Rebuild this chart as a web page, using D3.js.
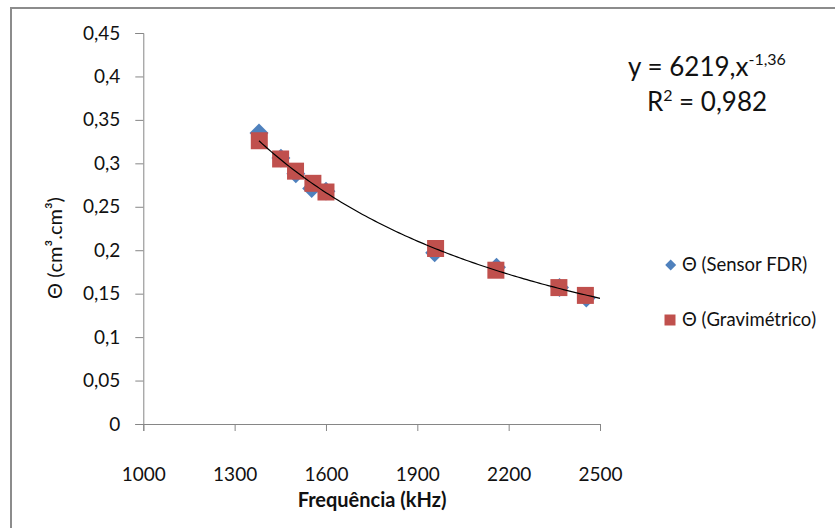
<!DOCTYPE html>
<html>
<head>
<meta charset="utf-8">
<script src="https://cdn.jsdelivr.net/npm/d3@7"></script>
<style>
  html, body { margin: 0; padding: 0; background: #fff; }
  svg { display: block; font-family: Lato, "Noto Sans", sans-serif; }
</style>
</head>
<body>
<svg id="chart" width="835" height="528"></svg>
<script>
// ---- data ----
const freqSensor  = [1380, 1452, 1501, 1553, 1600, 1957, 2160, 2367, 2455];
const thetaSensor = [0.335, 0.306, 0.288, 0.271, 0.268, 0.197, 0.1805, 0.157, 0.145];
const freqGravi   = [1381, 1451, 1500, 1557, 1600, 1960, 2158, 2365, 2452];
const thetaGravi  = [0.326, 0.305, 0.291, 0.277, 0.267, 0.202, 0.177, 0.157, 0.148];
const xTicks = [1000, 1300, 1600, 1900, 2200, 2500];
const yTicks = [0, 0.05, 0.1, 0.15, 0.2, 0.25, 0.3, 0.35, 0.4, 0.45];
const seriesNames = ["Θ (Sensor FDR)", "Θ (Gravimétrico)"];
const trendCoef = 6388, trendExp = -1.367;   // drawn trend curve
const trendRange = [1380, 2500];
const eqMain = "y = 6219,x", eqExp = "-1,36", r2Text = " = 0,982";

const svg = d3.select("#chart");
const x = d3.scaleLinear().domain([1000, 2500]).range([143.3, 600]);
const y = d3.scaleLinear().domain([0, 0.45]).range([424, 33]);
const axisColor = "#868686";
const fmt = d => d === 0 ? "0" : String(+d.toFixed(2)).replace(".", ",");

// outer border
svg.append("path")
  .attr("d", "M11,528 L11,8 L835,8")
  .attr("fill", "none").attr("stroke", "#8c8c8c").attr("stroke-width", 2);

// axes
const gy = svg.append("g").attr("transform", `translate(${x(1000)},0)`)
  .call(d3.axisLeft(y).tickValues(yTicks).tickFormat(fmt).tickSize(8).tickPadding(15));
const gx = svg.append("g").attr("transform", `translate(0,${y(0)})`)
  .call(d3.axisBottom(x).tickValues(xTicks).tickFormat(d => String(d)).tickSize(7).tickPadding(37));
[gx, gy].forEach(g => {
  g.selectAll("path.domain").attr("stroke", axisColor).attr("stroke-width", 1);
  g.selectAll(".tick line").attr("stroke", axisColor);
  g.selectAll(".tick text").attr("fill", "#111").style("font-size", "19px")
   .style("font-family", "Lato, sans-serif");
});

const blue = "#4F81BD", red = "#C0504D";
const trendLine = d3.line().x(d => x(d)).y(d => y(trendCoef * Math.pow(d, trendExp)));
const tx = d3.range(trendRange[0], trendRange[1] + 1, 10);

// sensor (diamonds)
svg.append("g").selectAll("path").data(freqSensor.map((f, i) => [f, thetaSensor[i]]))
  .join("path")
  .attr("transform", d => `translate(${x(d[0])},${y(d[1])}) rotate(45)`)
  .attr("d", d3.symbol(d3.symbolSquare, 180)())
  .attr("fill", blue);
// gravimetric (squares)
svg.append("g").selectAll("path").data(freqGravi.map((f, i) => [f, thetaGravi[i]]))
  .join("path")
  .attr("transform", d => `translate(${x(d[0])},${y(d[1])})`)
  .attr("d", d3.symbol(d3.symbolSquare, 289)())
  .attr("fill", red);

// trend curve (drawn over markers)
svg.append("path")
  .datum(tx)
  .attr("fill", "none").attr("stroke", "#000").attr("stroke-width", 1.2)
  .attr("d", trendLine);

// axis titles
svg.append("text").attr("x", 372).attr("y", 507).attr("text-anchor", "middle")
  .style("font-size", "20px").style("font-weight", "bold").attr("fill", "#111")
  .text("Frequência (kHz)");
svg.append("text").attr("transform", "translate(62,248) rotate(-90)").attr("text-anchor", "middle")
  .style("font-size", "20px").attr("fill", "#111")
  .text("Θ (cm³.cm³)");

// equation
const eq = svg.append("text").attr("x", 707).attr("y", 76).attr("text-anchor", "middle")
  .style("font-size", "26px").attr("fill", "#111");
eq.append("tspan").text(eqMain);
eq.append("tspan").attr("dy", -11).style("font-size", "16px").text(eqExp);
const r2 = svg.append("text").attr("x", 707).attr("y", 111).attr("text-anchor", "middle")
  .style("font-size", "26px").attr("fill", "#111");
r2.append("tspan").text("R");
r2.append("tspan").attr("dy", -10).style("font-size", "16px").text("2");
r2.append("tspan").attr("dy", 10).text(r2Text);

// legend
const legend = svg.append("g");
legend.append("path").attr("transform", "translate(670.7,265) rotate(45)")
  .attr("d", d3.symbol(d3.symbolSquare, 60)()).attr("fill", blue);
legend.append("path").attr("transform", "translate(670,320)")
  .attr("d", d3.symbol(d3.symbolSquare, 121)()).attr("fill", red);
legend.selectAll("text.lg").data(seriesNames).join("text").attr("class", "lg")
  .attr("x", 682).attr("y", (d, i) => 271 + i * 55)
  .style("font-size", "18.5px").attr("fill", "#111").text(d => d);
</script>
</body>
</html>
